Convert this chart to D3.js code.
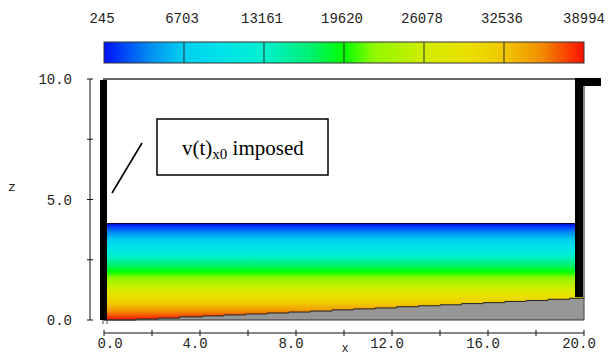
<!DOCTYPE html>
<html><head><meta charset="utf-8">
<script src="https://cdn.jsdelivr.net/npm/d3@7"></script>
<style>
html,body{margin:0;padding:0;background:#fff;}
svg{display:block;}
text{font-family:"Liberation Mono","DejaVu Sans Mono",monospace;}
</style></head>
<body>
<svg id="c" width="608" height="358"></svg>
<script>
// ---- data ----
const colorTicks = [245, 6703, 13161, 19620, 26078, 32536, 38994];
const colorStopVals = [245, 4000, 6703, 10000, 13161, 17000, 19620, 22000, 26078, 29000, 32536, 35500, 38994];
const colorStopCols = ["#0010ff","#0090f0","#00d0f0","#00e4e8","#00f0d0","#00f070","#00ff00","#90f800","#d0ec00","#e8e400","#f0c800","#f09000","#ff1000"];
const xTicks = [0, 2, 4, 6, 8, 10, 12, 14, 16, 18, 20];
const xLabels = ["0.0", "", "4.0", "", "8.0", "", "12.0", "", "16.0", "", "20.0"];
const zTicks = [0, 2.5, 5, 7.5, 10];
const zLabels = ["0.0", "", "5.0", "", "10.0"];
const waterLevel = 4.0;
const bedX = [0, 1.35, 2.25, 3.15, 4.1, 5.0, 5.9, 6.8, 7.7, 8.6, 9.5, 10.4, 11.3, 12.2, 13.1, 14.0, 14.9, 15.8, 16.7, 17.6, 18.5, 19.4, 20];
const bedZ = [0.0, 0.04, 0.08, 0.13, 0.17, 0.21, 0.25, 0.29, 0.33, 0.37, 0.42, 0.46, 0.50, 0.55, 0.59, 0.63, 0.68, 0.72, 0.77, 0.81, 0.86, 0.90, 0.95];
const pressureTop = 245, pressureBottom = 38994;

// ---- scales ----
const svg = d3.select("#c");
const x = d3.scaleLinear().domain([0, 20]).range([104, 584]);
const z = d3.scaleLinear().domain([0, 10]).range([320, 79]);
const pScale = d3.scaleLinear().domain([pressureTop, pressureBottom]).range([104, 584]);
const color = d3.scaleLinear().domain(colorStopVals).range(colorStopCols).interpolate(d3.interpolateRgb);
const pOfZ = d3.scaleLinear().domain([waterLevel, 0]).range([pressureTop, pressureBottom]);

const defs = svg.append("defs");
const cbg = defs.append("linearGradient").attr("id","cbg").attr("x1","0%").attr("x2","100%").attr("y1","0%").attr("y2","0%");
d3.range(0, 1.0001, 0.02).forEach(t => {
  const v = pressureTop + t*(pressureBottom-pressureTop);
  cbg.append("stop").attr("offset", (t*100)+"%").attr("stop-color", color(v));
});
const wg = defs.append("linearGradient").attr("id","wg").attr("gradientUnits","userSpaceOnUse")
  .attr("x1",0).attr("x2",0).attr("y1", z(waterLevel)).attr("y2", z(0));
d3.range(0, 1.0001, 0.02).forEach(t => {
  const zz = waterLevel*(1-t);
  wg.append("stop").attr("offset",(t*100)+"%").attr("stop-color", color(pOfZ(zz)));
});

// ---- colorbar ----
const cbTop = 42, cbH = 21;
svg.append("rect").attr("x", pScale(pressureTop)).attr("y", cbTop)
  .attr("width", pScale(pressureBottom)-pScale(pressureTop)).attr("height", cbH)
  .attr("fill","url(#cbg)").attr("stroke","#333").attr("stroke-width",1);
svg.selectAll(".cbdiv").data(colorTicks.slice(1,-1)).join("line")
  .attr("x1", d=>pScale(d)).attr("x2", d=>pScale(d)).attr("y1", cbTop).attr("y2", cbTop+cbH)
  .attr("stroke","#333").attr("stroke-width",1);
svg.selectAll(".cblab").data(colorTicks).join("text")
  .attr("x", (d,i)=> i===colorTicks.length-1 ? Math.min(pScale(d), 588) : pScale(d)-2)
  .attr("y", 23).attr("text-anchor","middle").attr("font-size",14).attr("fill","#222")
  .text(d=>d);

// ---- water ----
svg.append("rect").attr("x", x(0)).attr("y", z(waterLevel))
  .attr("width", x(20)-x(0)).attr("height", z(0)-z(waterLevel)).attr("fill","url(#wg)");
svg.append("line").attr("x1", x(0)).attr("x2", x(20)).attr("y1", z(waterLevel)).attr("y2", z(waterLevel))
  .attr("stroke","#000040").attr("stroke-width",1.2);

// ---- bed (stepped) ----
const bedPts = [];
bedX.forEach((bx,i)=>{
  if(i>0) bedPts.push([x(bx), z(bedZ[i-1])]);
  bedPts.push([x(bx), z(bedZ[i])]);
});
const bedPoly = [[x(0), z(0)], ...bedPts, [x(20), z(0)]];
svg.append("path").attr("d", "M"+bedPoly.map(p=>p.join(",")).join("L")+"Z")
  .attr("fill","#969696").attr("stroke","none");
svg.append("path").attr("d", "M"+bedPts.map(p=>p.join(",")).join("L"))
  .attr("fill","none").attr("stroke","#222").attr("stroke-width",1);
svg.append("line").attr("x1", x(0)).attr("x2", x(20)).attr("y1", z(0)).attr("y2", z(0)).attr("stroke","#333").attr("stroke-width",1.2);
svg.append("line").attr("x1", x(20)).attr("x2", x(20)).attr("y1", z(bedZ[bedZ.length-1])).attr("y2", z(0)).attr("stroke","#555").attr("stroke-width",1.2);

// ---- top boundary ----
svg.append("line").attr("x1", x(0)-1).attr("x2", x(20)-8).attr("y1", z(10)).attr("y2", z(10))
  .attr("stroke","#666").attr("stroke-width",2);

// ---- walls ----
svg.append("rect").attr("x", x(0)-4).attr("y", z(10)+1).attr("width", 7).attr("height", z(0)-z(10)-1).attr("fill","#000");
svg.append("line").attr("x1", x(0)-1).attr("x2", x(0)-1).attr("y1", z(0)).attr("y2", z(0)+4).attr("stroke","#444").attr("stroke-width",1);
svg.append("line").attr("x1", x(0)+3).attr("x2", x(0)+3).attr("y1", z(0)).attr("y2", z(0)+4).attr("stroke","#444").attr("stroke-width",1);
svg.append("rect").attr("x", x(20)-9).attr("y", z(10)-1).attr("width", 8).attr("height", z(bedZ[bedZ.length-1])-z(10)+1).attr("fill","#000");
svg.append("rect").attr("x", x(20)-1).attr("y", z(10)+7).attr("width", 2).attr("height", z(bedZ[bedZ.length-1])-z(10)-7).attr("fill","#888");
svg.append("rect").attr("x", x(20)-9).attr("y", z(10)-1).attr("width", 26).attr("height", 8).attr("fill","#000");

// ---- axes ----
const axCol = "#111";
svg.append("line").attr("x1",90).attr("x2",90).attr("y1",z(10)).attr("y2",z(0)).attr("stroke",axCol).attr("stroke-width",1);
svg.selectAll(".zt").data(zTicks).join("line")
  .attr("x1",87).attr("x2",93).attr("y1",d=>z(d)).attr("y2",d=>z(d)).attr("stroke",axCol).attr("stroke-width",1);
svg.selectAll(".zl").data(zTicks).join("text")
  .attr("x",72).attr("y",d=>z(d)+5).attr("text-anchor","end").attr("font-size",14).attr("fill","#222")
  .text((d,i)=>zLabels[i]);
svg.append("text").attr("x",12).attr("y",191).attr("text-anchor","middle").attr("font-size",13).attr("fill","#222").text("z");
const axY = 333;
svg.append("line").attr("x1",x(0)).attr("x2",x(20)).attr("y1",axY).attr("y2",axY).attr("stroke",axCol).attr("stroke-width",1);
svg.selectAll(".xt").data(xTicks).join("line")
  .attr("x1",d=>x(d)).attr("x2",d=>x(d)).attr("y1",axY-3).attr("y2",axY+3).attr("stroke",axCol).attr("stroke-width",1);
svg.selectAll(".xl").data(xTicks).join("text")
  .attr("x",(d,i)=> i===0 ? x(d)+6 : x(d)-5).attr("y",axY+15).attr("text-anchor","middle").attr("font-size",14).attr("fill","#222")
  .text((d,i)=>xLabels[i]);
svg.append("text").attr("x",345).attr("y",352).attr("text-anchor","middle").attr("font-size",12).attr("fill","#222").text("x");

// ---- annotation ----
svg.append("line").attr("x1",142).attr("y1",143).attr("x2",112).attr("y2",193).attr("stroke","#000").attr("stroke-width",1.6);
svg.append("rect").attr("x",157).attr("y",119).attr("width",171).attr("height",56).attr("fill","#fff").attr("stroke","#000").attr("stroke-width",1.5);
const t = svg.append("text").attr("x",182).attr("y",155)
  .style("font-family","'Liberation Serif','Times New Roman',serif").attr("font-size",21).attr("fill","#000");
t.append("tspan").text("v(t)");
t.append("tspan").attr("dy",4).attr("font-size",15).text("x0");
t.append("tspan").attr("dy",-4).text(" imposed");
</script>
</body></html>
